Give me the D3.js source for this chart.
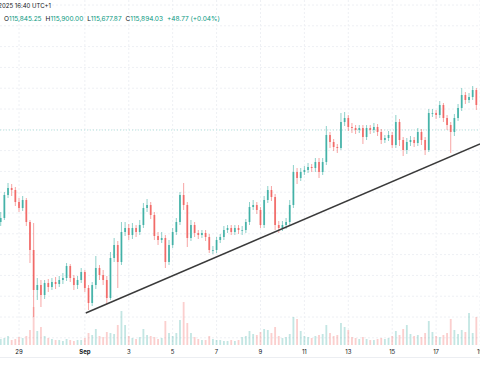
<!DOCTYPE html>
<html>
<head>
<meta charset="utf-8">
<script src="https://cdn.jsdelivr.net/npm/d3@7"></script>
<style>
    body { margin: 0; background: #fff; }
    svg { display: block; }
</style>
</head>
<body>
<div id="chart"></div>
<script>
// 4h candles, BTC/USD, 28 Aug - 18 Sep 2025
var firstOpen = 111120;
var closes = [111280,112200,112480,112400,111920,111680,112000,111120,110000,108400,
    108600,108200,108680,108520,108720,108640,108800,108880,109360,108880,
    108600,108800,109120,108480,107880,108600,109280,109000,108800,108080,
    109680,110200,109520,110720,110880,110600,110880,110720,111000,111680,
    111800,111400,110560,110400,110480,109520,110200,110720,111120,112200,
    111800,110480,111000,110680,110600,110680,110520,110000,110000,110400,
    110520,110800,110880,110720,110880,110800,110800,111120,111720,111800,
    111600,111000,112000,112400,112120,111000,110880,111000,111120,111800,
    113120,112880,113120,113200,113320,113280,113520,113120,113520,114600,
    114320,114120,114080,115120,115280,114920,114880,114800,114880,114520,
    114880,114800,114920,114720,114400,114480,114600,114200,115120,114400,
    114000,114320,114400,114280,114720,114400,114000,115480,115480,115400,
    115800,115280,115000,114720,115280,115680,116200,116000,116120,116400,
    115800];
var highs = [111520,112320,112680,112640,112520,112080,112160,112080,111200,111080,
    108880,108800,108800,108840,108880,108920,108960,109080,109480,109440,
    109000,108960,109280,109200,108600,108720,109760,109400,109200,108960,
    109920,110480,110360,111120,111120,111040,111080,111000,111200,111880,
    112040,111920,111520,110720,110720,110600,110400,110880,111280,112320,
    112680,111920,111200,111120,110800,110800,110800,110640,110160,110520,
    110640,110960,111000,111000,111000,111000,110960,111240,111920,112000,
    111920,111720,112160,112560,112560,112240,111160,111160,111280,112000,
    113400,113280,113280,113360,113480,113440,113680,113680,113680,114960,
    114720,114440,114240,115480,115520,115400,115080,115000,115000,115000,
    115000,115000,115080,115040,114840,114600,114760,114720,115400,115240,
    114520,114480,114560,114520,114880,114840,114520,115640,115640,115600,
    115960,115880,115400,115120,115440,115840,116480,116320,116280,116560,
    116480];
var lows = [110960,111200,112080,112160,111760,111520,111560,110960,109480,107320,
    108000,107720,108040,108320,108400,108440,108520,108640,108760,108720,
    108400,108440,108680,108320,107600,107760,108440,108800,108600,107840,
    108000,109520,108480,109400,110560,110400,110440,110520,110600,110880,
    111520,111240,110400,110200,110280,109280,109400,110080,110600,111000,
    111600,110120,110360,110520,110440,110480,110360,109880,109840,109880,
    110280,110400,110680,110600,110600,110640,110600,110680,111000,111600,
    111440,110880,110880,111880,111960,110800,110680,110760,110840,111000,
    111680,112640,112760,113000,113080,113120,113120,112880,113000,113400,
    114080,113960,113880,114000,114960,114760,114680,114640,114680,114240,
    114400,114640,114680,114560,114240,114280,114360,114080,114080,114160,
    113760,113840,114160,114120,114160,114200,113800,113920,115320,115240,
    115280,115120,114800,113880,114560,115160,115560,115840,115880,116000,
    115600];
var volumes = [600,700,900,500,600,800,700,900,1500,3800,
    1400,1800,900,700,600,500,500,400,600,500,
    400,500,500,700,1200,1000,1600,900,800,1300,
    1200,1100,2000,3400,2000,900,700,600,800,1600,
    1000,900,800,600,700,2400,1200,900,1200,2500,
    4300,2200,1200,800,600,500,500,900,600,500,
    500,400,400,500,400,500,800,900,1400,1100,
    1000,1300,1600,1500,1200,1800,900,700,800,1100,
    2800,2600,1400,900,800,700,900,1000,1100,2000,
    1200,900,1000,2200,1800,1500,800,700,600,800,
    600,500,500,600,700,600,700,900,1400,1000,
    1600,2000,1100,900,1000,800,1200,2400,1300,900,
    800,1000,1200,2600,1500,1100,1500,1300,3200,1200,
    2800];

var tickDays = ["2025-08-29", "2025-09-01", "2025-09-03", "2025-09-05", "2025-09-07", "2025-09-09",
    "2025-09-11", "2025-09-13", "2025-09-15", "2025-09-17", "2025-09-19"];
var tickLabels = ["29", "Sep", "3", "5", "7", "9", "11", "13", "15", "17", "19"];

var trendDates = ["2025-09-01 01:00", "2025-09-19 00:00"];
var trendPrices = [107480, 114240];
var refPrice = 114800;

var headerDate = "Thu 18 Sep 2025 16:40 UTC+1";
var ohlcNames = ["O", "H", "L", "C"];
var ohlcValues = ["115,845.25", "115,900.00", "115,677.87", "115,894.03"];
var changeText = "+48.77 (+0.04%)";

var width = 480, height = 384;
var up = "#26a69a", down = "#ef5350";

var parseDay = d3.timeParse("%Y-%m-%d");
var parseTime = d3.timeParse("%Y-%m-%d %H:%M");
var start = parseTime("2025-08-28 04:00");

var data = closes.map(function (c, i) {
    return {
        date: d3.timeHour.offset(start, 4 * i),
        open: i == 0 ? firstOpen : closes[i - 1],
        high: highs[i],
        low: lows[i],
        close: c,
        volume: volumes[i]
    };
});

var x = d3.scaleTime()
    .domain([parseDay("2025-08-29"), parseDay("2025-09-19")])
    .range([19, 480]);
var y = d3.scaleLinear().domain([104640, 120000]).range([384, 0]);
var yVol = d3.scaleLinear().domain([0, 5500]).range([345, 290]);

var step = x(d3.timeHour.offset(start, 4)) - x(start);
var bodyW = step * 0.5;

var svg = d3.select("#chart").append("svg")
    .attr("width", width)
    .attr("height", height)
    .style("font-family", "Inter, 'Open Sans', sans-serif");

// grid
var grid = svg.append("g").attr("class", "grid");
grid.selectAll(".vgrid")
    .data(tickDays.map(parseDay))
    .enter().append("line")
    .attr("x1", function (d) { return x(d); })
    .attr("x2", function (d) { return x(d); })
    .attr("y1", 0)
    .attr("y2", 345)
    .style("stroke", "#eef0f4")
    .style("stroke-dasharray", "2,2");

grid.selectAll(".hgrid")
    .data(d3.range(106488, 119900, 832))
    .enter().append("line")
    .attr("x1", 0)
    .attr("x2", width)
    .attr("y1", function (d) { return y(d); })
    .attr("y2", function (d) { return y(d); })
    .style("stroke", "#eef0f4")
    .style("stroke-dasharray", "2,2");

svg.append("line")
    .attr("x1", 0).attr("x2", width)
    .attr("y1", y(refPrice)).attr("y2", y(refPrice))
    .style("stroke", "#b5e3dd")
    .style("stroke-dasharray", "1,2");

// volume
svg.append("g").selectAll("rect")
    .data(data)
    .enter().append("rect")
    .attr("x", function (d) { return x(d.date) - bodyW / 2; })
    .attr("width", bodyW)
    .attr("y", function (d) { return yVol(d.volume); })
    .attr("height", function (d) { return yVol(0) - yVol(d.volume); })
    .style("fill", function (d) { return d.close >= d.open ? up : down; })
    .style("fill-opacity", 0.28);

// candles
var candles = svg.append("g").selectAll("g")
    .data(data)
    .enter().append("g");

candles.append("line")
    .attr("x1", function (d) { return x(d.date); })
    .attr("x2", function (d) { return x(d.date); })
    .attr("y1", function (d) { return y(d.high); })
    .attr("y2", function (d) { return y(d.low); })
    .style("stroke", function (d) { return d.close >= d.open ? up : down; })
    .style("stroke-width", 0.7)
    .style("stroke-opacity", 0.75);

candles.append("rect")
    .attr("x", function (d) { return x(d.date) - bodyW / 2; })
    .attr("width", bodyW)
    .attr("y", function (d) { return y(Math.max(d.open, d.close)); })
    .attr("height", function (d) { return Math.max(0.8, Math.abs(y(d.open) - y(d.close))); })
    .style("fill", function (d) { return d.close >= d.open ? up : down; })
    .style("fill-opacity", 0.75);

// trend line
svg.append("line")
    .attr("x1", x(parseTime(trendDates[0])))
    .attr("y1", y(trendPrices[0]))
    .attr("x2", x(parseTime(trendDates[1])))
    .attr("y2", y(trendPrices[1]))
    .style("stroke", "#3a3a3a")
    .style("stroke-width", 1.4);

// time axis
svg.append("line")
    .attr("x1", 0).attr("x2", width)
    .attr("y1", 357.5).attr("y2", 357.5)
    .style("stroke", "#eceef2");

svg.append("g").selectAll("text")
    .data(tickDays)
    .enter().append("text")
    .attr("x", function (d) { return x(parseDay(d)); })
    .attr("y", 352)
    .attr("dy", "0.35em")
    .style("text-anchor", "middle")
    .style("font-size", "6px")
    .style("font-weight", function (d, i) { return tickLabels[i] == "Sep" ? "bold" : "normal"; })
    .style("fill", "#131722")
    .text(function (d, i) { return tickLabels[i]; });

// header
svg.append("text")
    .attr("x", 51)
    .attr("y", 6)
    .attr("dy", "0.35em")
    .style("text-anchor", "end")
    .style("font-size", "6px")
    .style("fill", "#131722")
    .text(headerDate);

var legend = svg.append("text")
    .attr("x", 4)
    .attr("y", 19)
    .attr("dy", "0.35em")
    .style("font-size", "6.5px");

ohlcNames.forEach(function (n, i) {
    legend.append("tspan")
        .attr("dx", i == 0 ? 0 : 4)
        .style("fill", "#131722")
        .text(n);
    legend.append("tspan")
        .style("fill", "#089981")
        .text(ohlcValues[i]);
});
legend.append("tspan")
    .attr("dx", 4)
    .style("fill", "#089981")
    .text(changeText);
</script>
</body>
</html>
